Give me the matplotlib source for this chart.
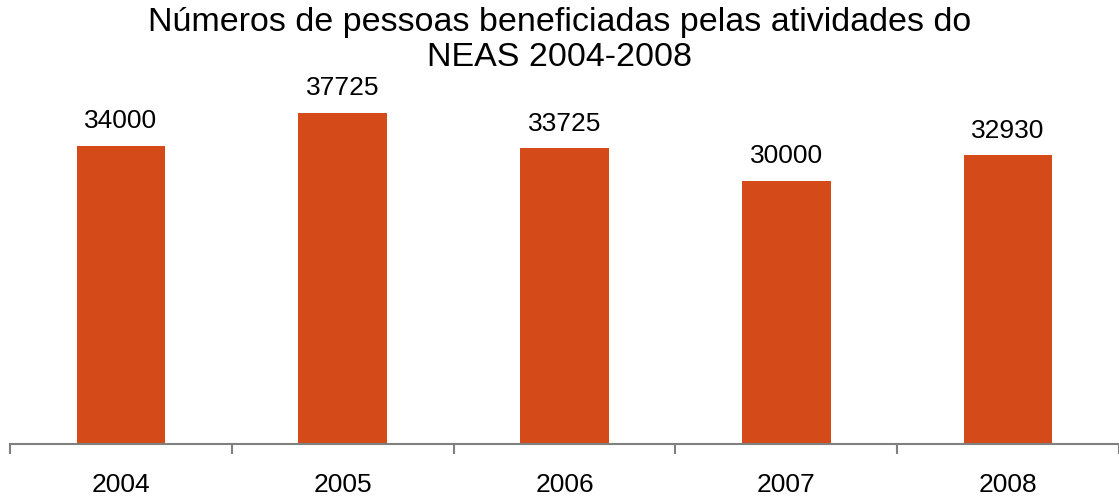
import matplotlib.pyplot as plt

anos = ["2004", "2005", "2006", "2007", "2008"]
pessoas = [34000, 37725, 33725, 30000, 32930]

plt.rcParams['font.family'] = ['Liberation Sans', 'DejaVu Sans']

fig = plt.figure(figsize=(11.19, 4.96), dpi=100)
ax = fig.add_axes([10 / 1119, 1 - 444 / 496, 1 - 10 / 1119, 444 / 496])

x = list(range(len(anos)))
barras = ax.bar(x, pessoas, width=0.4, color='#D44A18')

# rótulos de valor acima das barras
for xi, v in zip(x, pessoas):
    ax.annotate(str(v), (xi, v), xytext=(0, 9), textcoords='offset points',
                ha='center', va='bottom', fontsize=19)

ax.set_xlim(-0.5, len(anos) - 0.5)
ax.set_ylim(0, 50600)

ax.set_xticks(x)
ax.set_xticklabels(anos, fontsize=19)
ax.set_xticks([i - 0.5 for i in range(len(anos) + 1)], minor=True)
ax.tick_params(axis='x', which='major', length=0, pad=21)
ax.tick_params(axis='x', which='minor', length=7, width=1.5, color='#808080', direction='out')
ax.set_yticks([])

for lado in ['top', 'right', 'left']:
    ax.spines[lado].set_visible(False)
ax.spines['bottom'].set_color('#808080')
ax.spines['bottom'].set_linewidth(1.5)
ax.patch.set_visible(False)

fig.text(0.5, 0.985, 'Números de pessoas beneficiadas pelas atividades do\nNEAS 2004-2008',
         ha='center', va='top', fontsize=24.5, linespacing=1.16)

fig.savefig('out.png', dpi=100)
